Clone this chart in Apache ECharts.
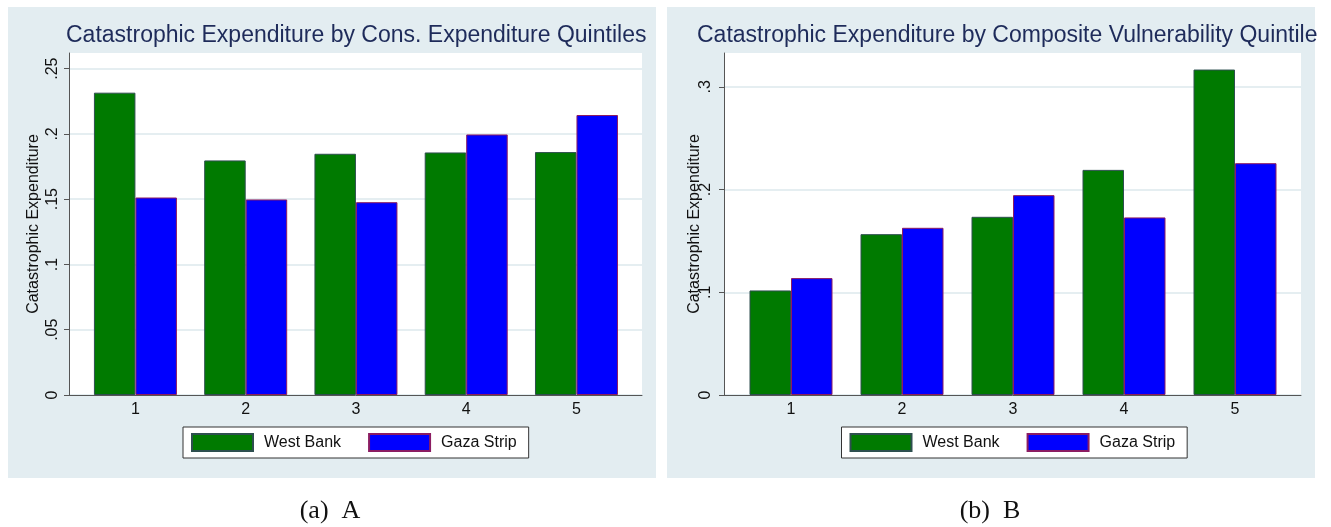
<!DOCTYPE html>
<html>
<head>
<meta charset="utf-8">
<script src="https://cdn.jsdelivr.net/npm/echarts@6/dist/echarts.min.js"></script>
<style>
html,body{margin:0;padding:0;background:#fff;}
#chart{width:1331px;height:527px;}
</style>
</head>
<body>
<div id="chart"></div>
<script>
// ---- data ----
var categories = ['1', '2', '3', '4', '5'];
var seriesNames = ['West Bank', 'Gaza Strip'];
var westBankA = [0.2316, 0.1797, 0.1848, 0.1858, 0.1861];
var gazaStripA = [0.1513, 0.1498, 0.1477, 0.1996, 0.2145];
var westBankB = [0.1018, 0.1566, 0.1735, 0.2192, 0.3169];
var gazaStripB = [0.1138, 0.1628, 0.1946, 0.1729, 0.2257];
var yTicksA = [0, 0.05, 0.1, 0.15, 0.2, 0.25];
var yTicksB = [0, 0.1, 0.2, 0.3];
var titleA = 'Catastrophic Expenditure by Cons. Expenditure Quintiles';
var titleB = 'Catastrophic Expenditure by Composite Vulnerability Quintile';
var yName = 'Catastrophic Expenditure';
var captionA = '(a)  A';
var captionB = '(b)  B';

var chart = echarts.init(document.getElementById('chart'), null, {renderer: 'canvas'});

var PANEL = '#e3edf1';
var GRIDLINE = '#dde8ed';
var AXIS = '#555555';
var TITLE = '#1e2b5a';
var GREEN = '#007a00', BLUE = '#0000ff';
var FONT = 'Liberation Sans, Arial, sans-serif';

function fmt(v) {
  if (v === 0) return '0';
  return String(+v.toFixed(3)).replace(/^0/, '');
}

function bgY(gridIndex, max, ticks, margin, nameGap) {
  return {
    type: 'value', gridIndex: gridIndex, min: 0, max: max,
    axisLine: {show: true, lineStyle: {color: AXIS, width: 1}},
    axisTick: {show: true, length: 5, lineStyle: {color: AXIS}, customValues: ticks},
    axisLabel: {rotate: 90, margin: margin, fontSize: 16, color: '#111', fontFamily: FONT,
      customValues: ticks, formatter: fmt},
    splitLine: {show: true, lineStyle: {color: GRIDLINE, width: 1.5}},
    name: yName, nameLocation: 'middle', nameGap: nameGap, nameMoveOverlap: false,
    nameTextStyle: {fontSize: 16, color: '#111', fontFamily: FONT}
  };
}
function bgX(gridIndex) {
  return {
    type: 'value', gridIndex: gridIndex, min: 0, max: 1,
    axisLine: {show: true, lineStyle: {color: AXIS, width: 1}},
    axisTick: {show: false}, axisLabel: {show: false}, splitLine: {show: false}
  };
}
function barX(gridIndex) {
  return {
    type: 'category', gridIndex: gridIndex, data: categories,
    axisLine: {show: false}, axisTick: {show: false},
    axisLabel: {fontSize: 16, color: '#111', fontFamily: FONT, margin: 7}
  };
}
function barY(gridIndex, max) {
  return {type: 'value', gridIndex: gridIndex, min: 0, max: max, show: false, splitLine: {show: false}};
}
function bar(name, data, axisIdx, color, border) {
  return {
    type: 'bar', name: name, data: data, xAxisIndex: axisIdx, yAxisIndex: axisIdx,
    barWidth: 41.5, barGap: '0%',
    itemStyle: {color: color, borderColor: border, borderWidth: 1},
    emphasis: {disabled: true}, z: 3
  };
}
function legend(left) {
  return {
    data: seriesNames, left: left, top: 427, orient: 'horizontal',
    icon: 'rect', itemWidth: 61, itemHeight: 17, itemGap: 27,
    padding: [6, 12, 6, 8], backgroundColor: '#fff', borderColor: '#333', borderWidth: 1,
    textStyle: {fontSize: 16, color: '#111', fontFamily: FONT, padding: [0, 0, 0, 6]},
    selectedMode: false
  };
}

var option = {
  animation: false,
  backgroundColor: '#ffffff',
  graphic: [
    {type: 'rect', shape: {x: 8, y: 7, width: 648, height: 471}, style: {fill: PANEL}, z: -10},
    {type: 'rect', shape: {x: 667, y: 7, width: 648, height: 471}, style: {fill: PANEL}, z: -10},
    {type: 'text', left: 66, top: 24, style: {text: titleA, font: '23px ' + FONT, fill: TITLE}, z: 5},
    {type: 'text', left: 697, top: 24, style: {text: titleB, font: '23px ' + FONT, fill: TITLE}, z: 5},
    {type: 'text', x: 330, y: 511, style: {text: captionA, font: '26px Liberation Serif, serif', fill: '#111', textAlign: 'center', textVerticalAlign: 'middle'}},
    {type: 'text', x: 990, y: 511, style: {text: captionB, font: '26px Liberation Serif, serif', fill: '#111', textAlign: 'center', textVerticalAlign: 'middle'}}
  ],
  grid: [
    {left: 69, top: 53, width: 573, height: 342, show: true, backgroundColor: '#fff', borderWidth: 0},
    {left: 80.3, top: 53, width: 551.3, height: 342},
    {left: 724, top: 53, width: 577, height: 342, show: true, backgroundColor: '#fff', borderWidth: 0},
    {left: 735.5, top: 53, width: 555, height: 342}
  ],
  xAxis: [bgX(0), barX(1), bgX(2), barX(3)],
  yAxis: [bgY(0, 0.262, yTicksA, 8, 27), barY(1, 0.262), bgY(2, 0.333, yTicksB, 10, 21), barY(3, 0.333)],
  legend: [legend(183), legend(841.5)],
  series: [
    bar(seriesNames[0], westBankA, 1, GREEN, '#2e4f4f'),
    bar(seriesNames[1], gazaStripA, 1, BLUE, '#8b1c62'),
    bar(seriesNames[0], westBankB, 3, GREEN, '#2e4f4f'),
    bar(seriesNames[1], gazaStripB, 3, BLUE, '#8b1c62')
  ]
};
chart.setOption(option);
</script>
</body>
</html>
